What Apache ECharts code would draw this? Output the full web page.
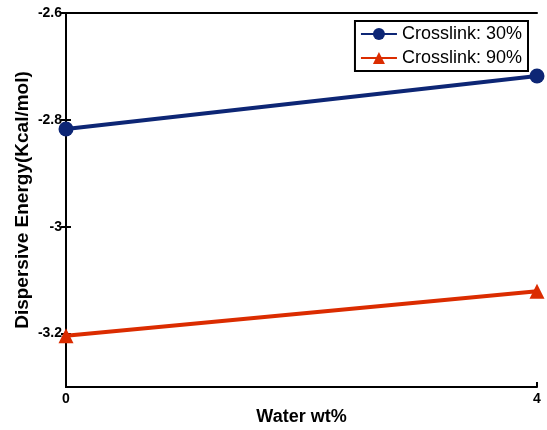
<!DOCTYPE html>
<html>
<head>
<meta charset="utf-8">
<script src="https://cdn.jsdelivr.net/npm/echarts@6/dist/echarts.min.js"></script>
<style>
  html, body { margin: 0; padding: 0; background: #fff; }
  #chart { width: 547px; height: 430px; }
</style>
</head>
<body>
<div id="chart"></div>
<script>
// data
const waterWt = [0, 4]
const crosslink30 = [-2.817, -2.718]
const crosslink90 = [-3.204, -3.121]
const yTicks = [-3.2, -3, -2.8, -2.6]
const xTicks = [0, 4]

const myChart = echarts.init(document.getElementById('chart'))

const font = 'Liberation Sans, Arial, sans-serif'
const pairs = (ys) => waterWt.map((x, i) => [x, ys[i]])

const options = {
  animation: false,
  grid: { left: 66, top: 13, right: 10, bottom: 43, outerBoundsMode: 'none' },
  xAxis: [
    {
      type: 'value',
      min: 0,
      max: 4,
      name: 'Water wt%',
      nameLocation: 'middle',
      nameGap: 21,
      nameMoveOverlap: false,
      nameTextStyle: { fontFamily: font, fontWeight: 'bold', fontSize: 18, color: '#000' },
      axisLine: { lineStyle: { color: '#000', width: 2 } },
      axisTick: { inside: true, length: 5, customValues: xTicks, lineStyle: { color: '#000', width: 2 } },
      axisLabel: { customValues: xTicks, margin: 5, fontFamily: font, fontWeight: 'bold', fontSize: 14, color: '#000' },
      splitLine: { show: false },
    },
    {
      type: 'value',
      position: 'top',
      min: 0,
      max: 4,
      axisLine: { lineStyle: { color: '#000', width: 2 } },
      axisTick: { show: false },
      axisLabel: { show: false },
      splitLine: { show: false },
    },
  ],
  yAxis: [
    {
      type: 'value',
      min: -3.3,
      max: -2.6,
      name: 'Dispersive Energy(Kcal/mol)',
      nameLocation: 'middle',
      nameGap: 34,
      nameMoveOverlap: false,
      nameTextStyle: { fontFamily: font, fontWeight: 'bold', fontSize: 19, color: '#000' },
      axisLine: { lineStyle: { color: '#000', width: 2 } },
      axisTick: { inside: true, length: 5, customValues: yTicks, lineStyle: { color: '#000', width: 2 } },
      axisLabel: { customValues: yTicks, margin: 4, fontFamily: font, fontWeight: 'bold', fontSize: 14, color: '#000' },
      splitLine: { show: false },
    },
    {
      type: 'value',
      position: 'right',
      min: -3.3,
      max: -2.6,
      axisLine: { show: true, lineStyle: { color: '#000', width: 2 } },
      axisTick: { show: true, inside: true, length: 5, customValues: yTicks, lineStyle: { color: '#000', width: 2 } },
      axisLabel: { show: false },
      splitLine: { show: false },
    },
  ],
  legend: {
    right: 19,
    top: 21,
    orient: 'vertical',
    backgroundColor: '#fff',
    borderColor: '#000',
    borderWidth: 2,
    borderRadius: 0,
    padding: [4, 6, 4, 5],
    itemGap: 6,
    itemWidth: 36,
    itemHeight: 15,
    textStyle: { fontFamily: font, fontSize: 18, color: '#000' },
  },
  series: [
    {
      name: 'Crosslink: 30%',
      type: 'line',
      data: pairs(crosslink30),
      symbol: 'circle',
      symbolSize: 15,
      color: '#0d2675',
      lineStyle: { width: 4 },
    },
    {
      name: 'Crosslink: 90%',
      type: 'line',
      data: pairs(crosslink90),
      symbol: 'triangle',
      symbolSize: 15,
      color: '#db2c00',
      lineStyle: { width: 4 },
    },
  ],
}
myChart.setOption(options)
</script>
</body>
</html>
